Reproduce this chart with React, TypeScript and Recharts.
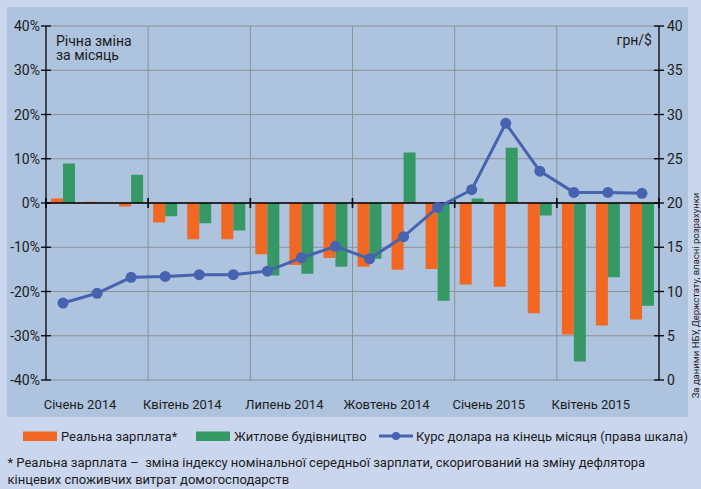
import React from 'react';
import { ComposedChart, Bar, Line, XAxis, YAxis, CartesianGrid, ReferenceLine, Legend } from 'recharts';

const FONT = "Roboto, 'DejaVu Sans', sans-serif";

const months = [
  '2014-01', '2014-02', '2014-03', '2014-04', '2014-05', '2014-06',
  '2014-07', '2014-08', '2014-09', '2014-10', '2014-11', '2014-12',
  '2015-01', '2015-02', '2015-03', '2015-04', '2015-05', '2015-06',
];
const monthLabels = [
  'Січень 2014', '', '', 'Квітень 2014', '', '', 'Липень 2014', '', '',
  'Жовтень 2014', '', '', 'Січень 2015', '', '', 'Квітень 2015', '', '',
];
const realWage = [1.0, 0.3, -0.8, -4.4, -8.2, -8.2, -11.6, -14.0, -12.4, -14.4, -15.1, -14.9, -18.4, -18.9, -24.9, -29.7, -27.7, -26.3];
const housing = [8.9, 0, 6.4, -3.0, -4.6, -6.2, -16.4, -16.0, -14.4, -12.6, 11.4, -22.1, 1.0, 12.5, -2.8, -35.8, -16.8, -23.2];
const usdRate = [8.7, 9.8, 11.6, 11.7, 11.9, 11.9, 12.3, 13.8, 15.1, 13.7, 16.2, 19.5, 21.5, 29.0, 23.6, 21.2, 21.2, 21.1];
const leftTicks = [-40, -30, -20, -10, 0, 10, 20, 30, 40];
const rightTicks = [0, 5, 10, 15, 20, 25, 30, 35, 40];
const gridMonths = ['2014-04', '2014-07', '2014-10', '2015-01', '2015-04'];

const seriesNames = {
  wage: 'Реальна зарплата*',
  housing: 'Житлове будівництво',
  rate: 'Курс долара на кінець місяця (права шкала)',
};

const COLORS = {
  wage: '#f26722',
  housing: '#369965',
  rate: '#4663b0',
  outer: '#c9d6ee',
  inner: '#adc3de',
  grid: '#8c9097',
  text: '#1c1c1c',
};

const data = months.map((m, i) => ({
  m,
  wage: realWage[i],
  housing: housing[i],
  rate: usdRate[i],
}));

const LeftTick = (props: any) => {
  const { x, y, payload } = props;
  const ax = x + 5;
  return (
    <g>
      <line x1={ax - 5} x2={ax + 5} y1={y} y2={y} stroke="#000" strokeWidth={1.3} />
      <text x={ax - 6} y={y + 5} textAnchor="end" fontSize={14} fontFamily={FONT} fill={COLORS.text}>
        {payload.value}%
      </text>
    </g>
  );
};

const RightTick = (props: any) => {
  const { x, y, payload } = props;
  const ax = x - 5;
  return (
    <g>
      <line x1={ax - 5} x2={ax + 5} y1={y} y2={y} stroke="#000" strokeWidth={1.3} />
      <text x={ax + 8} y={y + 5} textAnchor="start" fontSize={14} fontFamily={FONT} fill={COLORS.text}>
        {payload.value}
      </text>
    </g>
  );
};

const XTick = (props: any) => {
  const { x, y, payload } = props;
  const lbl = monthLabels[payload.index];
  if (!lbl) return <g />;
  const half = typeof payload.offset === 'number' ? payload.offset : 17;
  return (
    <text x={x + half} y={y + 29} textAnchor="middle" fontSize={13} fontFamily={FONT} fill={COLORS.text}>
      {lbl}
    </text>
  );
};

const ZeroLine = (props: any) => {
  const { x1, y1, x2, y2 } = props;
  const steps = months.length / 3;
  const xs = Array.from({ length: steps + 1 }, (_, k) => x1 + ((x2 - x1) * k) / steps);
  return (
    <g>
      <line x1={x1} y1={y1} x2={x2} y2={y2} stroke="#000" strokeWidth={1.6} />
      {xs.map((xx, i) => (
        <line key={i} x1={xx} x2={xx} y1={y1 - 5} y2={y1 + 5} stroke="#000" strokeWidth={1.6} />
      ))}
    </g>
  );
};

const vGen = (args: any) => {
  const { xAxis, offset } = args;
  if (xAxis && typeof xAxis.scale === 'function') {
    const pts = gridMonths.map((m) => xAxis.scale(m));
    if (pts.every((p: any) => typeof p === 'number' && isFinite(p))) return pts;
  }
  return [3, 6, 9, 12, 15].map((k) => offset.left + (offset.width * k) / months.length);
};

const legendOrder = ['wage', 'housing', 'rate'];
const legendX: Record<string, number> = { wage: 23, housing: 196, rate: 379 };

const renderLegend = (props: any) => {
  const payload = [...(props.payload || [])].sort(
    (a: any, b: any) => legendOrder.indexOf(a.dataKey) - legendOrder.indexOf(b.dataKey)
  );
  return (
    <svg width={701} height={22} style={{ display: 'block' }}>
      {payload.map((p: any) => {
        const key = String(p.dataKey);
        const x = legendX[key] ?? 0;
        const isLine = key === 'rate';
        return (
          <g key={key}>
            {isLine ? (
              <g>
                <line x1={x} x2={x + 34} y1={10} y2={10} stroke={COLORS.rate} strokeWidth={3} />
                <circle cx={x + 17} cy={10} r={4} fill={COLORS.rate} />
              </g>
            ) : (
              <rect x={x} y={5.5} width={34} height={9.5} fill={p.color} />
            )}
            <text x={x + (isLine ? 37 : 38)} y={14.7} fontSize={13} fontFamily={FONT} fill={COLORS.text}>
              {p.value}
            </text>
          </g>
        );
      })}
    </svg>
  );
};

export default function App() {
  return (
    <div style={{ position: 'absolute', left: 0, top: 0, width: 701, height: 489, background: COLORS.outer, overflow: 'hidden' }}>
      <div style={{ position: 'absolute', left: 7, top: 7, width: 681, height: 410, background: COLORS.inner }} />
      <div style={{ position: 'absolute', left: 0, top: 0 }}>
        <ComposedChart
          width={701}
          height={489}
          data={data}
          margin={{ top: 26, right: 2, bottom: 79, left: 6 }}
          barGap={0}
        >
          <CartesianGrid stroke={COLORS.grid} strokeWidth={1} verticalCoordinatesGenerator={vGen} />
          <XAxis
            dataKey="m"
            interval={0}
            axisLine={false}
            tickLine={false}
            tickSize={0}
            tickMargin={0}
            height={30}
            tick={<XTick />}
          />
          <YAxis
            domain={[-40, 40]}
            ticks={leftTicks}
            width={40}
            axisLine={{ stroke: '#000', strokeWidth: 1.3 }}
            tickLine={false}
            tickSize={5}
            tickMargin={0}
            tick={<LeftTick />}
            allowDataOverflow
          />
          <YAxis
            yAxisId="right"
            orientation="right"
            domain={[0, 40]}
            ticks={rightTicks}
            width={40}
            axisLine={{ stroke: '#000', strokeWidth: 1.3 }}
            tickLine={false}
            tickSize={5}
            tickMargin={0}
            tick={<RightTick />}
            allowDataOverflow
          />
          <Bar dataKey="wage" name={seriesNames.wage} fill={COLORS.wage} barSize={12} isAnimationActive={false} />
          <Bar dataKey="housing" name={seriesNames.housing} fill={COLORS.housing} barSize={12} isAnimationActive={false} />
          <ReferenceLine y={0} shape={ZeroLine} />
          <Line
            yAxisId="right"
            dataKey="rate"
            name={seriesNames.rate}
            stroke={COLORS.rate}
            strokeWidth={3}
            dot={{ r: 5.5, fill: COLORS.rate, stroke: COLORS.rate, strokeWidth: 0 }}
            activeDot={false}
            isAnimationActive={false}
          />
          <Legend
            verticalAlign="middle"
            align="center"
            layout="horizontal"
            content={renderLegend}
            wrapperStyle={{ left: 0, top: 426, width: 701, height: 22 }}
          />
        </ComposedChart>
      </div>
      <svg width={701} height={489} style={{ position: 'absolute', left: 0, top: 0, pointerEvents: 'none' }}>
        <text x={56} y={45.5} fontSize={14} fontFamily={FONT} fill={COLORS.text}>Річна зміна</text>
        <text x={56} y={60} fontSize={14} fontFamily={FONT} fill={COLORS.text}>за місяць</text>
        <text x={652} y={45} fontSize={14} fontFamily={FONT} fill={COLORS.text} textAnchor="end">грн/$</text>
        <text
          x={695.5}
          y={295.5}
          fontSize={9.5}
          fontFamily={FONT}
          fill={COLORS.text}
          textAnchor="middle"
          dominantBaseline="central"
          transform="rotate(-90 695.5 295.5)"
        >
          За даними НБУ, Держстату, власні розрахунки
        </text>
        <text x={7.5} y={467.3} fontSize={13} fontFamily={FONT} fill={COLORS.text} style={{ whiteSpace: 'pre' }} xmlSpace="preserve">
          {'* Реальна зарплата –  зміна індексу номінальної середньої зарплати, скоригований на зміну дефлятора'}
        </text>
        <text x={7.5} y={484} fontSize={13} fontFamily={FONT} fill={COLORS.text}>
          кінцевих споживчих витрат домогосподарств
        </text>
      </svg>
    </div>
  );
}
